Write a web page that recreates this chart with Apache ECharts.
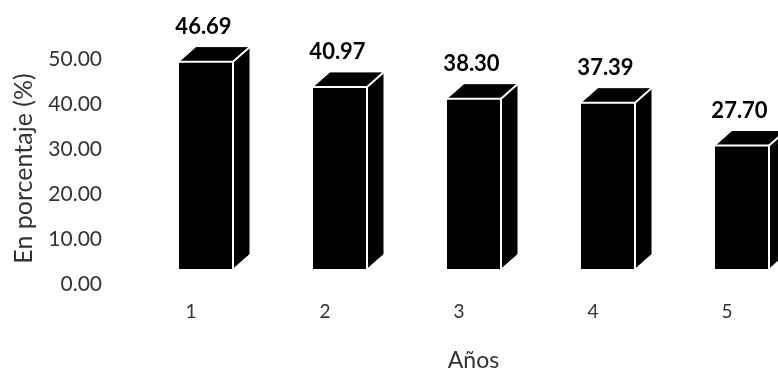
<!DOCTYPE html>
<html>
<head>
<meta charset="utf-8">
<style>html,body{margin:0;padding:0;background:#fff}#chart{width:778px;height:369px}</style>
<script src="https://cdn.jsdelivr.net/npm/echarts@6/dist/echarts.min.js"></script>
</head>
<body>
<div id="chart"></div>
<script>
// Percentage per year, drawn as extruded columns
const years = ['1', '2', '3', '4', '5'];
const percentages = [46.69, 40.97, 38.30, 37.39, 27.70];
const axisTicks = [0, 10, 20, 30, 40, 50];

const FONT = 'Lato';
const BAR_WIDTH = 53;
const DEPTH_X = 17;
const DEPTH_Y = 15;

function renderColumn(params, api) {
  const i = api.value(0);
  const v = api.value(1);
  const top = api.coord([i, v]);
  const base = api.coord([i, 0]);
  const l = top[0] - BAR_WIDTH / 2;
  const r = top[0] + BAR_WIDTH / 2;
  const dark = { fill: '#000', stroke: '#000', lineWidth: 1 };
  return {
    type: 'group',
    children: [
      { type: 'polygon', shape: { points: [[l, top[1]], [r, top[1]], [r + DEPTH_X, top[1] - DEPTH_Y], [l + DEPTH_X, top[1] - DEPTH_Y]] }, style: dark },
      { type: 'polygon', shape: { points: [[r, top[1]], [r + DEPTH_X, top[1] - DEPTH_Y], [r + DEPTH_X, base[1] - DEPTH_Y], [r, base[1]]] }, style: dark },
      { type: 'rect', shape: { x: l, y: top[1], width: BAR_WIDTH, height: base[1] - top[1] }, style: { fill: '#000' } },
      { type: 'polyline', shape: { points: [[l - 1, top[1] - 1], [r + 1, top[1] - 1], [r + 1, base[1]]] }, style: { fill: 'none', stroke: '#fff', lineWidth: 2 } },
      { type: 'line', shape: { x1: r + 1, y1: top[1] - 1, x2: r + DEPTH_X + 1, y2: top[1] - DEPTH_Y - 1 }, style: { stroke: '#fff', lineWidth: 2 } },
      { type: 'text', x: top[0] - 2, y: top[1] - DEPTH_Y - 21, style: { text: v.toFixed(2), fill: '#000', font: 'bold 22px "' + FONT + '"', align: 'center', verticalAlign: 'middle' } }
    ]
  };
}

const chart = echarts.init(document.getElementById('chart'), null, { renderer: 'canvas' });
chart.setOption({
  backgroundColor: '#fff',
  animation: false,
  grid: [
    { left: 124, top: 59, width: 670, height: 225, outerBoundsMode: 'none' },
    { left: 138.5, top: 48, width: 670, height: 221, outerBoundsMode: 'none' }
  ],
  xAxis: [
    {
      gridIndex: 0, type: 'category', data: years,
      axisLine: { show: false }, axisTick: { show: false },
      axisLabel: { color: '#333', fontFamily: FONT, fontSize: 19, margin: 18 }
    },
    {
      gridIndex: 1, type: 'category', data: years,
      axisLine: { show: false }, axisTick: { show: false }, axisLabel: { show: false },
      name: 'Años', nameLocation: 'middle', nameGap: 80,
      nameTextStyle: { color: '#333', fontFamily: FONT, fontSize: 23 }
    }
  ],
  yAxis: [
    {
      gridIndex: 0, type: 'value', min: axisTicks[0], max: axisTicks[axisTicks.length - 1], interval: axisTicks[1] - axisTicks[0],
      splitLine: { show: false }, axisLine: { show: false }, axisTick: { show: false },
      axisLabel: { color: '#333', fontFamily: FONT, fontSize: 21, margin: 22, formatter: function (v) { return v.toFixed(2); } },
      name: 'En porcentaje (%)', nameLocation: 'middle', nameGap: 88,
      nameTextStyle: { color: '#333', fontFamily: FONT, fontSize: 25, padding: [0, 0, 0, 6] }
    },
    { gridIndex: 1, type: 'value', min: 0, max: 50, show: false }
  ],
  series: [{
    type: 'custom',
    xAxisIndex: 1, yAxisIndex: 1,
    clip: false,
    encode: { x: 0, y: 1 },
    renderItem: renderColumn,
    data: percentages.map(function (p, i) { return [i, p]; })
  }]
});
</script>
</body>
</html>
